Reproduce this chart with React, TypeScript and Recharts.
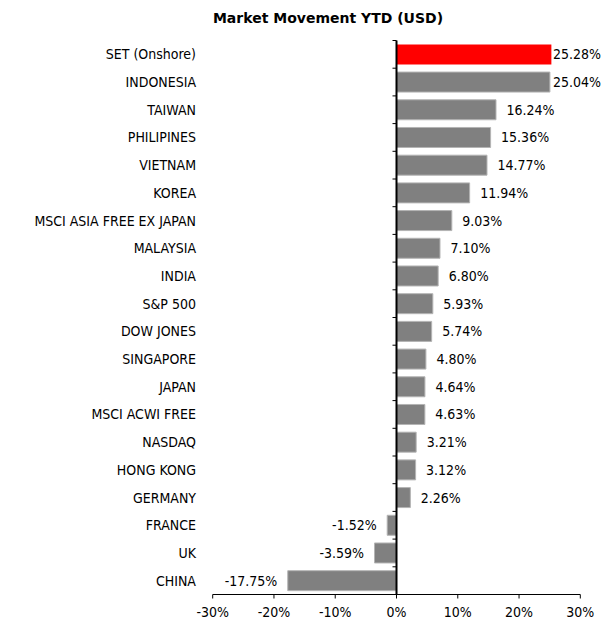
import { BarChart, Bar, XAxis, YAxis, Cell, LabelList, ReferenceLine } from "recharts";

const markets = [
  "SET (Onshore)",
  "INDONESIA",
  "TAIWAN",
  "PHILIPINES",
  "VIETNAM",
  "KOREA",
  "MSCI ASIA FREE EX JAPAN",
  "MALAYSIA",
  "INDIA",
  "S&P 500",
  "DOW JONES",
  "SINGAPORE",
  "JAPAN",
  "MSCI ACWI FREE",
  "NASDAQ",
  "HONG KONG",
  "GERMANY",
  "FRANCE",
  "UK",
  "CHINA",
];
const ytd = [25.28, 25.04, 16.24, 15.36, 14.77, 11.94, 9.03, 7.1, 6.8, 5.93, 5.74, 4.8, 4.64, 4.63, 3.21, 3.12, 2.26, -1.52, -3.59, -17.75];
const xTicks = [-30, -20, -10, 0, 10, 20, 30];
const highlight = "SET (Onshore)";

const data = markets.map((name, i) => ({ name, value: ytd[i] }));

const W = 612;
const H = 624;
const FONT = "'DejaVu Sans Condensed', 'DejaVu Sans', sans-serif";
const FS = 14;

let ctx: CanvasRenderingContext2D | null = null;
function textWidth(s: string) {
  if (!ctx) ctx = document.createElement("canvas").getContext("2d");
  if (!ctx) return s.length * 8;
  ctx.font = `${FS}px ${FONT}`;
  return ctx.measureText(s).width;
}

// Excel-style outside-end label, kept inside the chart's right edge
function ValueLabel(props: any) {
  const { x, y, width, height, value } = props;
  const left = Math.min(x, x + width);
  const right = Math.max(x, x + width);
  const cy = y + height / 2;
  const txt = `${Number(value).toFixed(2)}%`;
  const gap = 10.5;
  if (value >= 0) {
    const end = Math.min(right + gap + textWidth(txt), W - 11);
    return (
      <text x={end} y={cy} textAnchor="end" dominantBaseline="central" fontSize={FS} fontFamily={FONT} fill="#000">
        {txt}
      </text>
    );
  }
  return (
    <text x={left - gap} y={cy} textAnchor="end" dominantBaseline="central" fontSize={FS} fontFamily={FONT} fill="#000">
      {txt}
    </text>
  );
}

// zero line with tick marks between categories
function ZeroAxis(props: any) {
  const { x1, y1, y2 } = props;
  const n = data.length;
  const top = Math.min(y1, y2);
  const step = Math.abs(y2 - y1) / n;
  const marks = [];
  for (let i = 0; i <= n; i++) {
    const yy = top + i * step;
    marks.push(<line key={i} x1={x1 - 4} x2={x1} y1={yy} y2={yy} stroke="#000" strokeWidth={1} />);
  }
  return (
    <g>
      <line x1={x1} x2={x1} y1={y1} y2={y2} stroke="#000" strokeWidth={2} />
      {marks}
    </g>
  );
}

export default function App() {
  return (
    <div style={{ position: "absolute", left: 0, top: 0, width: W, height: H, background: "#fff" }}>
      <div
        style={{
          position: "absolute",
          left: 328 - 200,
          width: 400,
          top: 10,
          textAlign: "center",
          fontFamily: "'DejaVu Sans', sans-serif",
          fontWeight: "bold",
          fontSize: 14,
          color: "#000",
        }}
      >
        Market Movement YTD (USD)
      </div>
      <BarChart
        width={W}
        height={H}
        data={data}
        layout="vertical"
        margin={{ top: 40.5, right: 31.7, bottom: 0, left: 0 }}
        barCategoryGap="14%"
      >
        <XAxis
          type="number"
          domain={[-30, 30]}
          ticks={xTicks}
          allowDataOverflow
          tickFormatter={(v: number) => `${v}%`}
          axisLine={{ stroke: "#000", strokeWidth: 1 }}
          tickLine={{ stroke: "#000" }}
          tickSize={4}
          tickMargin={9}
          height={29.5}
          tick={{ fill: "#000", fontSize: FS, fontFamily: FONT }}
        />
        <YAxis
          type="category"
          dataKey="name"
          width={212.7}
          axisLine={false}
          tickLine={false}
          tickSize={0}
          tickMargin={16.7}
          interval={0}
          tick={{ fill: "#000", fontSize: FS, fontFamily: FONT }}
        />
        <Bar dataKey="value" isAnimationActive={false}>
          {data.map((d) => (
            <Cell
              key={d.name}
              fill={d.name === highlight ? "#ff0000" : "#808080"}
              stroke={d.name === highlight ? "none" : "#b4b4b4"}
              strokeWidth={1}
            />
          ))}
          <LabelList dataKey="value" content={<ValueLabel />} />
        </Bar>
        <ReferenceLine x={0} shape={<ZeroAxis />} />
      </BarChart>
    </div>
  );
}
